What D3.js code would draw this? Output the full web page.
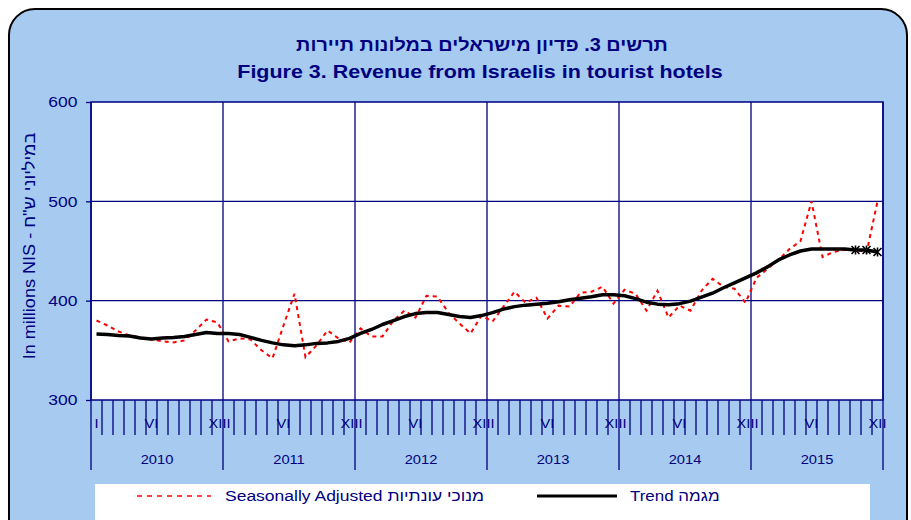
<!DOCTYPE html>
<html>
<head>
<meta charset="utf-8">
<script src="https://cdn.jsdelivr.net/npm/d3@7"></script>
<style>
  html, body { margin: 0; padding: 0; background: #fff; }
  svg text { font-family: "Liberation Sans", Arial, sans-serif; fill: #000080; }
</style>
</head>
<body>
<svg id="chart" width="911" height="520"></svg>
<script>
'use strict'

// chart data
var years = ["2010", "2011", "2012", "2013", "2014", "2015"],
    monthLabels = ["I", "", "", "", "", "VI", "", "", "", "", "", "XII"],
    yTicks = [300, 400, 500, 600];

// seasonally adjusted, millions NIS, Jan 2010 .. Dec 2015
var seasAdj = [
  380, 375, 369, 365, 363, 361, 359, 358, 360, 370, 381, 378,
  359, 362, 361, 350, 342, 375, 407, 343, 355, 370, 362, 358,
  372, 364, 364, 380, 390, 383, 405, 404, 388, 377, 367, 385,
  379, 394, 409, 398, 403, 382, 395, 394, 408, 409, 414, 397,
  411, 407, 390, 410, 383, 395, 390, 410, 422, 414, 412, 398,
  423, 432, 441, 452, 460, 500, 444, 449, 451, 452, 448, 500
];

// trend
var trend = [
  366.5, 366, 365, 364.5, 362.5, 361.5, 362.5, 363, 364, 366, 368, 367,
  367, 366, 363, 360, 357.5, 355.5, 354.7, 355.5, 357, 357.5, 359, 362,
  367, 371, 376, 380, 384, 387, 388, 388, 386, 384, 383, 385,
  388, 391.5, 394, 395.5, 396.5, 397.5, 399, 401, 402.5, 404, 406, 406,
  405, 402, 398.5, 396.5, 396, 397, 399.5, 403.5, 407.5, 413, 418, 423,
  428, 434, 441, 446, 450, 452, 452, 452, 452, 451, 451, 449
];

// last trend points are provisional (asterisks)
var provisional = 3;

var navy = "#000080",
    stretch = 1.13,   // the original text is a bit wider than plain Arial
    pL = 91, pR = 883, pT = 102, pB = 400;

var svg = d3.select("#chart");

// put text at (x,y) and widen it horizontally around that point
function addText(parent, x, y, size, str) {
  return parent.append("text")
      .attr("transform", "translate(" + x + "," + y + ") scale(" + stretch + ",1)")
      .attr("font-size", size)
      .text(str);
}

// outer rounded panel
svg.append("rect")
    .attr("x", 9).attr("y", 9)
    .attr("width", 898).attr("height", 560)
    .attr("rx", 26).attr("ry", 26)
    .attr("fill", "#a6caf0")
    .attr("stroke", "#000")
    .attr("stroke-width", 2);

// titles
addText(svg, 482, 51, 17.6, "תרשים 3. פדיון מישראלים במלונות תיירות")
    .attr("text-anchor", "middle")
    .attr("font-weight", "bold");

addText(svg, 480, 78, 19, "Figure 3. Revenue from Israelis in tourist hotels")
    .attr("text-anchor", "middle")
    .attr("font-weight", "bold");

var months = d3.range(seasAdj.length);

var x = d3.scaleBand()
    .domain(months)
    .range([pL, pR])
    .padding(0);

var y = d3.scaleLinear()
    .domain([300, 600])
    .range([pB, pT]);

var cx = function(i) { return x(i) + x.bandwidth() / 2; };

// plot area
svg.append("rect")
    .attr("x", pL).attr("y", pT)
    .attr("width", pR - pL).attr("height", pB - pT)
    .attr("fill", "#fff");

// horizontal grid
svg.append("g")
  .selectAll("line")
  .data(yTicks.slice(1, -1))
  .enter().append("line")
    .attr("x1", pL).attr("x2", pR)
    .attr("y1", function(d) { return y(d); })
    .attr("y2", function(d) { return y(d); })
    .attr("stroke", navy).attr("stroke-width", 1.3);

// year separators: through plot and down past the month ticks
svg.append("g")
  .selectAll("line")
  .data(d3.range(years.length + 1))
  .enter().append("line")
    .attr("x1", function(k) { return k < years.length ? x(k * 12) : pR; })
    .attr("x2", function(k) { return k < years.length ? x(k * 12) : pR; })
    .attr("y1", pT)
    .attr("y2", 470)
    .attr("stroke", navy).attr("stroke-width", 1.3);

// month ticks
svg.append("g")
  .selectAll("line")
  .data(months.filter(function(i) { return i % 12 != 0; }))
  .enter().append("line")
    .attr("x1", function(i) { return x(i); })
    .attr("x2", function(i) { return x(i); })
    .attr("y1", pB).attr("y2", 435)
    .attr("stroke", navy).attr("stroke-width", 1.3);

// month labels
var mg = svg.append("g");
months.filter(function(i) { return monthLabels[i % 12] != ""; }).forEach(function(i) {
  addText(mg, cx(i), 428, 13, monthLabels[i % 12]).attr("text-anchor", "middle");
});

// year labels
var yg = svg.append("g");
years.forEach(function(d, k) {
  addText(yg, x(k * 12) + x.bandwidth() * 6, 464, 13, d).attr("text-anchor", "middle");
});

// y axis
var yAxis = svg.append("g")
    .attr("transform", "translate(" + pL + ",0)")
    .call(d3.axisLeft(y).tickValues(yTicks).tickSize(5).tickPadding(7));
yAxis.select(".domain").remove();
yAxis.selectAll("line").attr("stroke", navy).attr("stroke-width", 1.3);
yAxis.selectAll("text")
    .attr("font-size", 15.5)
    .attr("fill", navy)
    .attr("transform", "scale(" + stretch + ",1)")
    .style("font-family", "'Liberation Sans', Arial, sans-serif");

svg.append("text")
    .attr("transform", "translate(35," + ((pT + pB) / 2 - 5) + ") rotate(-90) scale(" + stretch + ",1)")
    .attr("text-anchor", "middle")
    .attr("font-size", 16)
    .text("In millions NIS - במיליוני ש\"ח");

// plot border
svg.append("rect")
    .attr("x", pL).attr("y", pT)
    .attr("width", pR - pL).attr("height", pB - pT)
    .attr("fill", "none")
    .attr("stroke", navy).attr("stroke-width", 1.5);

// series
var line = d3.line()
    .x(function(d, i) { return cx(i); })
    .y(function(d) { return y(d); });

svg.append("path")
    .datum(seasAdj)
    .attr("d", line)
    .attr("fill", "none")
    .attr("stroke", "#ff0000")
    .attr("stroke-width", 2)
    .attr("stroke-dasharray", "4,4");

svg.append("path")
    .datum(trend)
    .attr("d", line)
    .attr("fill", "none")
    .attr("stroke", "#000")
    .attr("stroke-width", 3.5)
    .attr("stroke-linejoin", "round");

// asterisk markers on provisional trend points
var star = svg.append("g")
  .selectAll("g")
  .data(months.slice(months.length - provisional))
  .enter().append("g")
    .attr("transform", function(i) { return "translate(" + cx(i) + "," + y(trend[i]) + ")"; });
star.append("path")
    .attr("d", "M-4,-4L4,4M-4,4L4,-4M0,-4.5L0,4.5")
    .attr("stroke", "#000")
    .attr("stroke-width", 1.6);

// legend
svg.append("rect")
    .attr("x", 95).attr("y", 484)
    .attr("width", 775).attr("height", 50)
    .attr("fill", "#fff");

var legend = svg.append("g");
legend.append("line")
    .attr("x1", 137).attr("x2", 211).attr("y1", 496).attr("y2", 496)
    .attr("stroke", "#ff0000").attr("stroke-width", 1.5)
    .attr("stroke-dasharray", "5,5");
addText(legend, 225, 501, 15.5, "Seasonally Adjusted מנוכי עונתיות");
legend.append("line")
    .attr("x1", 537).attr("x2", 617).attr("y1", 496).attr("y2", 496)
    .attr("stroke", "#000").attr("stroke-width", 3);
addText(legend, 630, 501, 15, "Trend מגמה");
</script>
</body>
</html>
